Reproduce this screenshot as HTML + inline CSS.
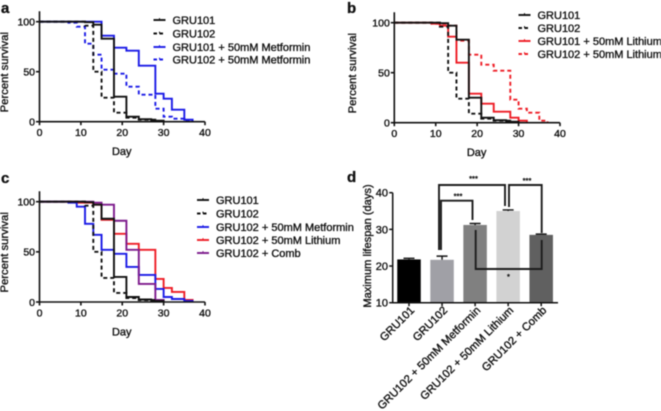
<!DOCTYPE html>
<html>
<head>
<meta charset="utf-8">
<style>
html,body{margin:0;padding:0;background:#fff;width:661px;height:411px;overflow:hidden}
svg{display:block;filter:blur(0.45px)}
text{font-family:"Liberation Sans",sans-serif;fill:#111;stroke:#111;stroke-width:.35px}
</style>
</head>
<body>
<svg id="figure" width="661" height="411" viewBox="0 0 661 411" xmlns="http://www.w3.org/2000/svg"></svg>
<script>
// Survival data (step drops: day and percent after the drop)
var gru101Days = [11, 13, 15, 18, 21, 24, 27, 30];
var gru101Vals = [99.5, 97, 83, 25, 5, 2.5, 1, 0];
var gru102Days = [11, 13, 15, 18, 21, 24, 28];
var gru102Vals = [96, 50, 24, 9, 4, 2, 0];
var met101Days = [13, 15, 18, 21, 24, 28, 30, 32, 35, 37];
var met101Vals = [100, 86, 74, 71, 56, 28, 23, 12, 2, 0];
var met102Days = [7, 9, 11, 13, 15, 18, 21, 24, 28, 30, 32, 35, 37];
var met102Vals = [99, 95, 78, 67, 52, 48, 35, 27, 13, 5, 3, 1, 0];
var li101Days = [9, 11, 13, 15, 18, 21, 24, 28, 30, 32];
var li101Vals = [99, 97, 86, 60, 29, 19, 11, 5, 2, 0];
var li102Days = [9, 13, 15, 18, 21, 24, 28, 30, 32, 35, 37];
var li102Vals = [99, 97, 82, 68, 58, 52, 23, 14, 10, 2, 0];
var combDays = [13, 15, 18, 21, 24, 28, 30];
var combVals = [99, 97, 81, 52, 18, 2, 0];

var survivalTicksX = [0, 10, 20, 30, 40];
var survivalTicksY = [0, 50, 100];

// Bar panel data
var barCategories = ["GRU101", "GRU102", "GRU102 + 50mM Metformin", "GRU102 + 50mM Lithium", "GRU102 + Comb"];
var barValues = [21.8, 21.7, 31.2, 35, 28.5];
var barErrors = [0.3, 1, 0.4, 0.3, 0.2];
var barTicks = [10, 20, 30, 40];

var svg = document.getElementById('figure');
var NS = 'http://www.w3.org/2000/svg';

function make(tag, attrs, parent) {
  var el = document.createElementNS(NS, tag);
  for (var k in attrs) { el.setAttribute(k, attrs[k]); }
  (parent || svg).appendChild(el);
  return el;
}

function label(str, x, y, size, anchor, weight, rotate, parent) {
  var t = make('text', {x: x, y: y, 'font-size': size, 'text-anchor': anchor || 'start'}, parent);
  if (weight) t.setAttribute('font-weight', weight);
  if (rotate) t.setAttribute('transform', 'rotate(' + rotate + ' ' + x + ' ' + y + ')');
  t.textContent = str;
  return t;
}

function survivalPanel(cfg) {
  var g = make('g', {});
  
  
  var xScale = function (d) { return cfg.x0 + (cfg.x1 - cfg.x0) * d / 40; };
  var yScale = function (v) { return cfg.y0 + (cfg.y100 - cfg.y0) * v / 100; };

  cfg.series.forEach(function (s) {
    var d = 'M' + xScale(0) + ' ' + yScale(100);
    s.days.forEach(function (day, i) {
      d += 'H' + xScale(day).toFixed(2) + 'V' + yScale(s.vals[i]).toFixed(2);
    });
    var p = make('path', {d: d, fill: 'none', stroke: s.color, 'stroke-width': 1.9}, g);
    if (s.dash) p.setAttribute('stroke-dasharray', '4 3');
    
    
  });

  var axes = make('g', {stroke: '#111', 'stroke-width': 1.6, fill: 'none'}, g);
  
  
  make('path', {d: 'M' + xScale(0) + ' ' + (cfg.y100 - 10.5) + 'V' + cfg.y0 + 'H' + xScale(40)}, axes);
  survivalTicksX.forEach(function (t) {
    make('path', {d: 'M' + xScale(t) + ' ' + cfg.y0 + 'v3.5'}, axes);
    var tl = label(String(t), xScale(t), cfg.y0 + 14.5, 10.5, 'middle', null, null, g);
    
    
  });
  survivalTicksY.forEach(function (t) {
    make('path', {d: 'M' + xScale(0) + ' ' + yScale(t) + 'h-3.5'}, axes);
    var tl = label(String(t), xScale(0) - 4.5, yScale(t) + 3.8, 10.5, 'end', null, null, g);
    
    
  });

  var xt = label('Day', (xScale(0) + xScale(40)) / 2 - 0.5, cfg.y0 + 33.5, 11, 'middle', null, null, g);
  
  
  var yt = label('Percent survival', cfg.titleX, (cfg.y0 + cfg.y100) / 2 + 0.5, 11.3, 'middle', null, -90, g);
  
  

  var pl = label(cfg.letter, cfg.lx, cfg.ly, 15, 'start', 'bold', null, g);
  
  

  cfg.legend.forEach(function (s, i) {
    var ly = cfg.legY[i];
    var lg = make('g', {}, g);
    
    
    var ln = make('line', {x1: cfg.legX, x2: cfg.legX + 12, y1: ly, y2: ly, stroke: s.color, 'stroke-width': 1.9}, lg);
    if (s.dash) ln.setAttribute('stroke-dasharray', '3.5 2.5');
    make('line', {x1: cfg.legX + 6, x2: cfg.legX + 6, y1: ly - 1.9, y2: ly, stroke: s.color, 'stroke-width': 1}, lg);
    label(s.text, cfg.legX + 19, ly + 4, 11, 'start', null, null, lg);
  });
}

var sBlack = {id: 'gru101', days: gru101Days, vals: gru101Vals, color: '#111', dash: false, text: 'GRU101'};
var sBlackD = {id: 'gru102', days: gru102Days, vals: gru102Vals, color: '#111', dash: true, text: 'GRU102'};

survivalPanel({
  name: 'panel-a', letter: 'a', lx: 1, ly: 13, titleX: 8,
  x0: 39.5, x1: 205, y0: 121.7, y100: 21.7,
  legX: 153.5, legY: [20, 33.5, 47, 59.5],
  series: [
    {id: 'gru102-metformin', days: met102Days, vals: met102Vals, color: '#1a1ae6', dash: true},
    {id: 'gru101-metformin', days: met101Days, vals: met101Vals, color: '#1a1ae6', dash: false},
    sBlackD, sBlack
  ],
  legend: [sBlack, sBlackD,
    {color: '#1a1ae6', dash: false, text: 'GRU101 + 50mM Metformin'},
    {color: '#1a1ae6', dash: true, text: 'GRU102 + 50mM Metformin'}]
});

survivalPanel({
  name: 'panel-b', letter: 'b', lx: 347, ly: 13, titleX: 356,
  x0: 394.3, x1: 560, y0: 122.7, y100: 22.7,
  legX: 518.5, legY: [15, 28, 41, 54],
  series: [
    {id: 'gru102-lithium', days: li102Days, vals: li102Vals, color: '#ee1c25', dash: true},
    {id: 'gru101-lithium', days: li101Days, vals: li101Vals, color: '#ee1c25', dash: false},
    sBlackD, sBlack
  ],
  legend: [sBlack, sBlackD,
    {color: '#ee1c25', dash: false, text: 'GRU101 + 50mM Lithium'},
    {color: '#ee1c25', dash: true, text: 'GRU102 + 50mM Lithium'}]
});

survivalPanel({
  name: 'panel-c', letter: 'c', lx: 1, ly: 183, titleX: 8,
  x0: 39.5, x1: 205, y0: 302, y100: 201.7,
  legX: 197, legY: [200, 213.5, 227, 240, 253],
  series: [
    {id: 'gru102-lithium', days: li102Days, vals: li102Vals, color: '#ee1c25', dash: false},
    {id: 'gru102-metformin', days: met102Days, vals: met102Vals, color: '#1a1ae6', dash: false},
    {id: 'gru102-comb', days: combDays, vals: combVals, color: '#7d1a8c', dash: false},
    sBlackD, sBlack
  ],
  legend: [sBlack, sBlackD,
    {color: '#1a1ae6', dash: false, text: 'GRU102 + 50mM Metformin'},
    {color: '#ee1c25', dash: false, text: 'GRU102 + 50mM Lithium'},
    {color: '#7d1a8c', dash: false, text: 'GRU102 + Comb'}]
});

// Panel d
(function () {
  var g = make('g', {});
  
  
  var barColors = ['#000000', '#a0a0a6', '#808080', '#d2d2d2', '#606060'];
  var yScale = function (v) { return 302.7 - (v - 10) * 3.667; };
  var xScale = function (i) { return 409 + i * 33.05; };
  var bw = 23.5;

  barValues.forEach(function (v, i) {
    var cx = xScale(i);
    var r = make('rect', {x: cx - bw / 2, y: yScale(v), width: bw, height: yScale(10) - yScale(v), fill: barColors[i]}, g);
    
    
    var top = yScale(v + barErrors[i]);
    var e = make('path', {d: 'M' + cx + ' ' + yScale(v) + 'V' + top + 'M' + (cx - 5.5) + ' ' + top + 'h11', stroke: '#111', 'stroke-width': 1.4, fill: 'none'}, g);
    
    
    var tl = label(barCategories[i], cx + 6, 311, 11.2, 'end', null, -45, g);
    
    
  });

  var axes = make('g', {stroke: '#111', 'stroke-width': 1.5, fill: 'none'}, g);
  
  
  make('path', {d: 'M392.7 ' + yScale(40) + 'V' + yScale(10) + 'H558'}, axes);
  barTicks.forEach(function (t) {
    make('path', {d: 'M392.7 ' + yScale(t) + 'h-3.5'}, axes);
    var tl = label(String(t), 388, yScale(t) + 4, 11, 'end', null, null, g);
    
    
  });
  barValues.forEach(function (v, i) {
    make('path', {d: 'M' + xScale(i) + ' ' + yScale(10) + 'v3.5'}, axes);
  });

  var yt = label('Maximum lifespan (days)', 371, 246, 11.1, 'middle', null, -90, g);
  
  
  var pl = label('d', 347, 182, 15, 'start', 'bold', null, g);
  
  

  var brackets = make('g', {stroke: '#1c1c1c', 'stroke-width': 1.9, fill: 'none'}, g);
  
  
  make('path', {d: 'M439 250V185H505V206'}, brackets);
  make('path', {d: 'M441 250V200.7H472.5V220'}, brackets);
  make('path', {d: 'M509 207V185H541.7V233'}, brackets);
  make('path', {d: 'M475.7 230V269H541.7V240'}, brackets);

  [[473.5, 181, '***'], [458, 198.5, '***'], [527, 183, '***'], [508.5, 279, '*']].forEach(function (s) {
    var t = label(s[2], s[0], s[1], 7.5, 'middle', null, null, g);
    
    
  });
})();
</script>
</body>
</html>
